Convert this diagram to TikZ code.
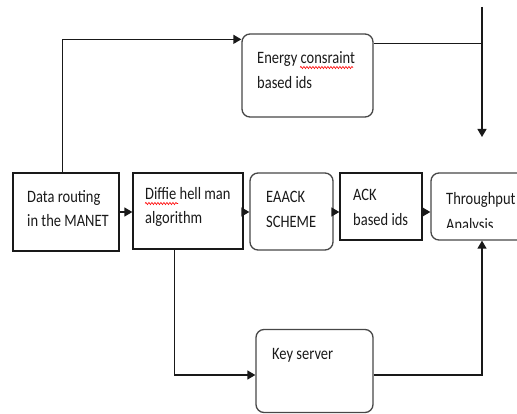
\documentclass[tikz,border=0pt]{standalone}
\usepackage{fontspec}
\setmainfont{Carlito}
\usetikzlibrary{arrows.meta,decorations.pathmorphing,calc}
\newcommand{\tl}[1]{\scalebox{1}[1.2]{#1}}
\begin{document}
\begin{tikzpicture}[x=1pt,y=-1pt,
  sqbox/.style={draw=black!90,line width=1.3pt,inner sep=0pt},
  rbox/.style={draw=black!72,line width=1.3pt,inner sep=0pt,rounded corners=8pt},
  conn/.style={draw=black!90,line width=1.3pt},
  arr/.style={conn,-{Triangle[length=8pt,width=9pt]}},
  txt/.style={anchor=base west,inner sep=0pt,font=\fontsize{14.5}{17}\selectfont,text=black!90},
  wavy/.style={draw=red,line width=0.6pt,decorate,decoration={snake,amplitude=1.1pt,segment length=3pt}}]
\useasboundingbox (0,0) rectangle (517,414);

% boxes
\node[sqbox,minimum width=106pt,minimum height=78pt] (data) at (66,212) {};
\node[sqbox,minimum width=110pt,minimum height=76pt] (diffie) at (188,211) {};
\node[rbox,minimum width=83pt,minimum height=77pt] (eaack) at (291.5,211.5) {};
\node[sqbox,minimum width=82pt,minimum height=67pt] (ack) at (381,206.5) {};
\node[rbox,minimum width=109pt,minimum height=67pt] (thr) at (485.5,206.5) {};
\node[rbox,minimum width=131pt,minimum height=83pt] (energy) at (307.5,75.5) {};
\node[rbox,minimum width=117pt,minimum height=83pt] (key) at (314.5,371) {};

% texts
\node[txt] (t1) at (257,64) {\tl{Energy consraint}};
\node[txt] (t2) at (257,89) {\tl{based ids}};
\node[txt] (t3) at (27,203) {\tl{Data routing}};
\node[txt] (t4) at (27,227) {\tl{in the MANET}};
\node[txt] (t5) at (145,200) {\tl{Diffie hell man}};
\node[txt] (t6) at (145,224) {\tl{algorithm}};
\node[txt] (t7) at (266,203) {\tl{EAACK}};
\node[txt] (t8) at (266,228) {\tl{SCHEME}};
\node[txt] (t9) at (353,201) {\tl{ACK}};
\node[txt] (t10) at (353,226) {\tl{based ids}};
\node[txt] (t11) at (446,205) {\tl{Throughput}};
\begin{scope}
  \clip (430,212) rectangle (517,228);
  \node[txt] (t12) at (446,231) {\tl{Analysis}};
\end{scope}
\node[txt] (t13) at (272,359) {\tl{Key server}};

% spell-check underlines
\coordinate (w1a) at (300,67.5); \coordinate (w1b) at (353,67.5);
\coordinate (w2a) at (145,203.5); \coordinate (w2b) at (178,203.5);
\draw[wavy] (w1a) -- (w1b);
\draw[wavy] (w2a) -- (w2b);

% connectors
\coordinate (vtop) at (482,7);
\coordinate (vend) at (482,137);
\draw[arr] (data.east) -- (diffie.west |- data.east);
\draw[arr] (diffie.east |- data.east) -- (eaack.west |- data.east);
\draw[arr] (eaack.east |- data.east) -- (ack.west |- data.east);
\draw[arr] (ack.east |- data.east) -- (thr.west |- data.east);
\draw[arr] ($(data.north west)+(50,0)$) |- ($(energy.north west)+(0,6)$);
\draw[conn] ($(energy.north east)+(0,10)$) -- (vtop |- {$(energy.north east)+(0,10)$});
\draw[arr] (vtop) -- (vend);
\draw[arr] ($(diffie.south west)+(42,0)$) |- ($(key.west)+(0,4)$);
\draw[arr] ($(key.east)+(0,4)$) -| (vtop |- thr.south);
\end{tikzpicture}
\end{document}
